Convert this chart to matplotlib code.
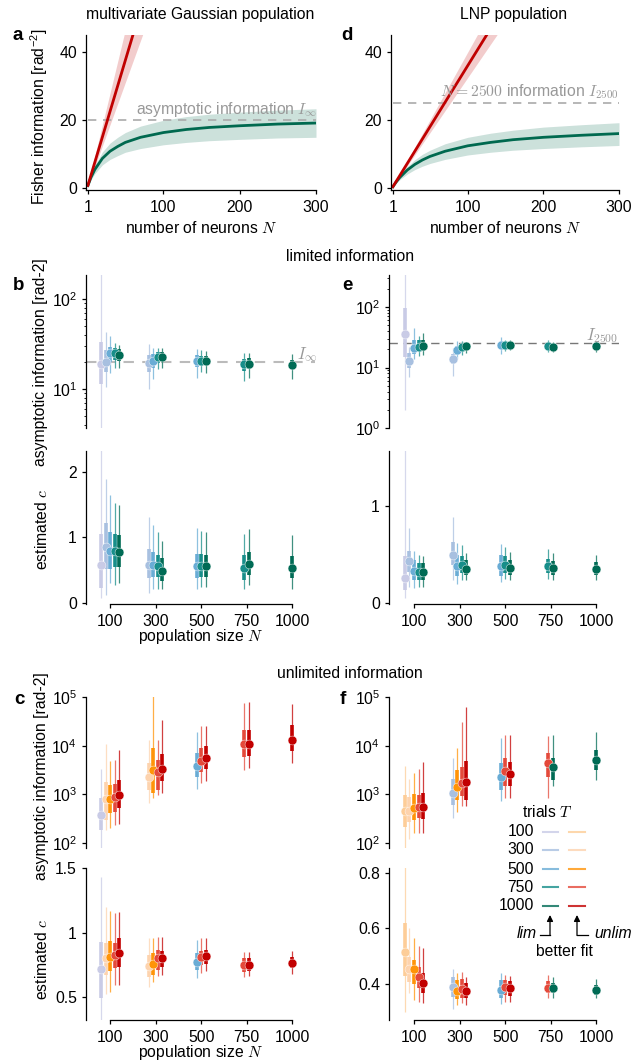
import matplotlib
matplotlib.use('Agg')
import matplotlib.pyplot as plt
from matplotlib.ticker import NullLocator, FixedLocator

plt.rcParams['font.family'] = ['Liberation Sans', 'DejaVu Sans']
plt.rcParams['font.size'] = 11.3
plt.rcParams['mathtext.fontset'] = 'cm'
plt.rcParams['axes.linewidth'] = 0.9
plt.rcParams['xtick.major.size'] = 3
plt.rcParams['ytick.major.size'] = 3
plt.rcParams['xtick.major.width'] = 0.9
plt.rcParams['ytick.major.width'] = 0.9
plt.rcParams['ytick.minor.size'] = 1.8
plt.rcParams['ytick.minor.width'] = 0.6
plt.rcParams['xtick.major.pad'] = 4
plt.rcParams['ytick.major.pad'] = 3.5

# ---------------- data: top curves ----------------
a_N = [1, 5, 10, 20, 30, 40, 50, 70, 100, 130, 160, 200, 250, 300]
a_lim = [0.7, 3.1, 5.4, 8.7, 10.8, 12.2, 13.4, 14.9, 16.3, 17.2, 17.8, 18.3, 18.8, 19.1]
a_lim_hi = [0.9, 3.8, 6.6, 10.6, 13.2, 14.9, 16.3, 18.2, 19.9, 21.0, 21.7, 22.3, 22.9, 23.3]
a_lim_lo = [0.5, 2.4, 4.2, 6.8, 8.4, 9.5, 10.5, 11.6, 12.7, 13.4, 13.9, 14.3, 14.7, 14.9]
a_unlim_N = [1, 100]
a_unlim = [0.75, 75]
a_unlim_lo = [0.62, 62]
a_unlim_hi = [0.93, 93]
a_asym = 20

d_N = [1, 5, 10, 20, 30, 40, 50, 70, 100, 130, 160, 200, 250, 300]
d_lim = [0.36, 1.67, 3.07, 5.27, 6.93, 8.23, 9.27, 10.8, 12.4, 13.4, 14.2, 14.9, 15.5, 16.0]
d_lim_hi = [0.43, 2.0, 3.7, 6.3, 8.3, 9.9, 11.1, 13.0, 14.9, 16.1, 17.0, 17.9, 18.6, 19.2]
d_lim_lo = [0.28, 1.3, 2.4, 4.1, 5.4, 6.4, 7.2, 8.4, 9.7, 10.5, 11.1, 11.6, 12.1, 12.5]
d_unlim_N = [1, 200]
d_unlim = [0.36, 72]
d_unlim_lo = [0.32, 65]
d_unlim_hi = [0.40, 80]
d_ref = 25

# ---------------- data: fit summaries ----------------
population_sizes = [100, 300, 500, 750, 1000]
trial_counts = [100, 300, 500, 750, 1000]

# panel b (limited-information Gaussian population)
b_info_med = [19.1, 20.1, 24.9, 24.9, 23.9, 19.7, 20.5, 22.5, 22.9, 20.5, 20.6, 20.5, 18.8, 19.2, 18.6]
b_info_lo50 = [11.3, 15.6, 20, 21, 20.5, 15.6, 17, 19.5, 20.5, 17.5, 18, 18.3, 16, 16.8, 16.5]
b_info_hi50 = [33, 27.1, 29.5, 28.3, 27.5, 23.9, 24.5, 26, 25.5, 24, 23.5, 23, 21.5, 22, 21]
b_info_lo95 = [3.0, 10.6, 15, 17, 17.3, 9.9, 12.8, 16.6, 17.3, 13.4, 15.3, 14.9, 12.4, 13.4, 13]
b_info_hi95 = [250, 43, 38.5, 32.7, 30.8, 31.5, 28.3, 28.7, 28.3, 27.8, 27.4, 26.4, 24.9, 24.9, 24.2]
b_c_med = [0.58, 0.86, 0.80, 0.79, 0.78, 0.58, 0.58, 0.56, 0.49, 0.56, 0.56, 0.56, 0.53, 0.59, 0.54]
b_c_lo50 = [0.23, 0.52, 0.52, 0.55, 0.55, 0.38, 0.40, 0.40, 0.33, 0.38, 0.40, 0.40, 0.35, 0.43, 0.38]
b_c_hi50 = [1.06, 1.22, 1.09, 1.06, 1.04, 0.83, 0.78, 0.73, 0.68, 0.75, 0.75, 0.73, 0.73, 0.78, 0.71]
b_c_lo95 = [0.07, 0.12, 0.30, 0.28, 0.30, 0.15, 0.22, 0.22, 0.21, 0.22, 0.25, 0.25, 0.21, 0.27, 0.22]
b_c_hi95 = [2.4, 1.90, 1.65, 1.52, 1.50, 1.32, 1.19, 1.09, 0.94, 1.14, 1.10, 1.09, 1.05, 1.13, 1.04]
b_better = ['lim'] * 15

# panel e (limited-information LNP population)
e_info_med = [36, 12.9, 21.4, 22.1, 22.8, 13.7, 19.5, 21.7, 22.6, 23.6, 23.2, 23.2, 22.8, 22.1, 22.4]
e_info_lo50 = [15, 9.8, 16.5, 18.5, 19, 11.5, 16.1, 19, 20.5, 20.5, 20.7, 21, 20.8, 20, 20.3]
e_info_hi50 = [95, 17.4, 28, 28, 28.5, 17, 22.5, 24.5, 24.5, 26.5, 25.5, 25, 25, 24.5, 24.5]
e_info_lo95 = [2.0, 7.0, 13.7, 15.3, 16.1, 7.3, 14, 16.1, 17.6, 16.5, 19, 19.2, 18.2, 17.7, 17.7]
e_info_hi95 = [400, 22.1, 44.5, 33, 36.7, 20.7, 27.5, 27.5, 26.5, 31.5, 28.5, 28, 28.5, 26.5, 27.5]
e_c_med = [0.254, 0.43, 0.33, 0.32, 0.315, 0.49, 0.38, 0.39, 0.35, 0.385, 0.395, 0.36, 0.38, 0.36, 0.35]
e_c_lo50 = [0.13, 0.32, 0.24, 0.24, 0.24, 0.39, 0.28, 0.31, 0.29, 0.28, 0.31, 0.29, 0.31, 0.29, 0.29]
e_c_hi50 = [0.48, 0.54, 0.44, 0.41, 0.41, 0.63, 0.49, 0.48, 0.44, 0.49, 0.48, 0.44, 0.45, 0.43, 0.42]
e_c_lo95 = [0.05, 0.17, 0.15, 0.17, 0.17, 0.24, 0.20, 0.24, 0.24, 0.22, 0.25, 0.24, 0.25, 0.24, 0.24]
e_c_hi95 = [1.7, 0.77, 0.54, 0.49, 0.48, 0.89, 0.62, 0.60, 0.52, 0.61, 0.58, 0.53, 0.56, 0.52, 0.50]
e_better = ['lim'] * 15

# panel c (unlimited-information Gaussian population)
c_info_med = [378, 790, 790, 870, 950, 2240, 3200, 2900, 3350, 3800, 4850, 5500, 10700, 10700, 13100]
c_info_lo50 = [186, 300, 410, 442, 518, 1230, 1050, 1230, 1900, 2240, 2900, 3350, 5900, 6200, 7700]
c_info_hi50 = [830, 1750, 1560, 1600, 1980, 4500, 8800, 5100, 6800, 7000, 8800, 9800, 21000, 21000, 26600]
c_info_lo95 = [70, 186, 200, 236, 248, 656, 832, 973, 1050, 1300, 1690, 1900, 3200, 3400, 4500]
c_info_hi95 = [3300, 10700, 4900, 5100, 8200, 13100, 110000, 13100, 33700, 19000, 25000, 25000, 74000, 80000, 72000]
c_c_med = [0.715, 0.805, 0.812, 0.826, 0.839, 0.74, 0.755, 0.80, 0.805, 0.774, 0.812, 0.817, 0.748, 0.752, 0.766]
c_c_lo50 = [0.49, 0.67, 0.70, 0.722, 0.735, 0.658, 0.672, 0.709, 0.73, 0.709, 0.748, 0.755, 0.696, 0.70, 0.722]
c_c_hi50 = [0.93, 0.916, 0.935, 0.916, 0.955, 0.826, 0.839, 0.864, 0.86, 0.839, 0.86, 0.864, 0.80, 0.80, 0.812]
c_c_lo95 = [0.30, 0.52, 0.54, 0.593, 0.593, 0.58, 0.62, 0.66, 0.67, 0.65, 0.684, 0.70, 0.658, 0.664, 0.68]
c_c_hi95 = [1.43, 1.2, 1.17, 1.15, 1.16, 0.955, 0.955, 0.967, 0.967, 0.94, 0.955, 0.955, 0.85, 0.85, 0.858]
c_better = ['lim', 'unlim', 'unlim', 'unlim', 'unlim', 'unlim', 'unlim', 'unlim', 'unlim',
            'lim', 'unlim', 'unlim', 'unlim', 'unlim', 'unlim']

# panel f (unlimited-information LNP population)
f_info_med = [456, 460, 518, 540, 540, 1080, 1400, 1690, 1830, 2240, 3000, 2600, 4300, 3700, 5100]
f_info_lo50 = [218, 275, 300, 323, 310, 600, 768, 930, 768, 1230, 1450, 1450, 2300, 1980, 3200]
f_info_hi50 = [973, 898, 1020, 973, 1050, 2050, 3200, 3700, 4800, 4300, 5500, 4700, 7200, 5500, 8200]
f_info_lo95 = [70, 120, 158, 158, 162, 323, 442, 570, 570, 740, 832, 832, 832, 1450, 1980]
f_info_hi95 = [3830, 2050, 2800, 3300, 4700, 5500, 8800, 31000, 63000, 14500, 16500, 16500, 16000, 16500, 19400]
f_c_med = [0.516, 0.453, 0.453, 0.424, 0.405, 0.388, 0.375, 0.38, 0.375, 0.378, 0.388, 0.385, 0.387, 0.387, 0.378]
f_c_lo50 = [0.428, 0.408, 0.40, 0.385, 0.366, 0.354, 0.345, 0.35, 0.348, 0.348, 0.36, 0.357, 0.366, 0.366, 0.36]
f_c_hi50 = [0.619, 0.498, 0.486, 0.462, 0.439, 0.424, 0.414, 0.417, 0.403, 0.414, 0.414, 0.41, 0.41, 0.405, 0.396]
f_c_lo95 = [0.30, 0.366, 0.342, 0.336, 0.33, 0.309, 0.324, 0.33, 0.324, 0.328, 0.336, 0.336, 0.348, 0.348, 0.348]
f_c_hi95 = [0.83, 0.60, 0.565, 0.535, 0.53, 0.455, 0.439, 0.444, 0.426, 0.441, 0.432, 0.428, 0.432, 0.426, 0.417]
f_better = ['unlim', 'unlim', 'unlim', 'unlim', 'unlim', 'lim', 'unlim', 'unlim', 'unlim',
            'lim', 'unlim', 'unlim', 'unlim', 'lim', 'lim']

# ---------------- styles ----------------
lim_colors = {100: '#c9cbe6', 300: '#a8c0e0', 500: '#69acd5', 750: '#178e8a', 1000: '#006b55'}
unlim_colors = {100: '#fdcd98', 300: '#fdd3ae', 500: '#ff9408', 750: '#e4493a', 1000: '#c20000'}
RED = '#c00000'
GREEN = '#00694f'

W, H = 632, 1063
fig = plt.figure(figsize=(W / 100, H / 100), dpi=100)


def px_axes(l, t, r, b):
    return fig.add_axes([l / W, 1 - b / H, (r - l) / W, (b - t) / H])


def ftext(x, y, s, **kw):
    fig.text(x / W, 1 - y / H, s, **kw)


def style(ax):
    for s in ['top', 'right']:
        ax.spines[s].set_visible(False)


# pairs (N, T) with T >= N
pairs = [(n, t) for n in population_sizes for t in trial_counts if t >= n]


def xpos():
    xs = []
    for gi, n in enumerate(population_sizes):
        ts = [t for t in trial_counts if t >= n]
        k = len(ts)
        for j in range(k):
            xs.append(gi + (j - (k - 1) / 2) * 0.1)
    return xs


XS = xpos()


def draw_points(ax, med, lo50, hi50, lo95, hi95, better):
    for i, (n, t) in enumerate(pairs):
        col = lim_colors[t] if better[i] == 'lim' else unlim_colors[t]
        x = XS[i]
        ax.plot([x, x], [lo95[i], hi95[i]], color=col, lw=0.9, alpha=0.75,
                solid_capstyle='butt', zorder=2 + i * 0.01)
        ax.plot([x, x], [lo50[i], hi50[i]], color=col, lw=2.6,
                solid_capstyle='butt', zorder=3 + i * 0.01)
        ax.plot([x], [med[i]], 'o', color=col, ms=6.4, mec='white', mew=0.3,
                zorder=4 + i * 0.01)


def setup_top(ax, ylim, minor=True):
    style(ax)
    ax.spines['bottom'].set_visible(False)
    ax.set_yscale('log')
    ax.set_ylim(*ylim)
    ax.set_xlim(-0.53, 4.5)
    ax.set_xticks([])
    if not minor:
        ax.yaxis.set_minor_locator(NullLocator())


def setup_bottom(ax, ylim, yticks, yticklabels):
    style(ax)
    ax.set_ylim(*ylim)
    ax.set_xlim(-0.53, 4.5)
    ax.set_xticks(range(len(population_sizes)))
    ax.set_xticklabels([str(n) for n in population_sizes])
    ax.spines['bottom'].set_bounds(0, len(population_sizes) - 1)
    ax.set_yticks(yticks)
    ax.set_yticklabels(yticklabels)


# ---------------- panel a ----------------
ax_a = px_axes(86, 35, 316, 190)
style(ax_a)
ax_a.fill_between(a_N, a_lim_lo, a_lim_hi, color=GREEN, alpha=0.2, lw=0)
ax_a.fill_between(a_unlim_N, a_unlim_lo, a_unlim_hi, color=RED, alpha=0.2, lw=0)
ax_a.axhline(a_asym, color='#aaaaaa', lw=1.2, ls=(0, (5, 4)), xmin=0.01)
ax_a.plot(a_N, a_lim, color=GREEN, lw=2.0)
ax_a.plot(a_unlim_N, a_unlim, color=RED, lw=2.0)
ax_a.text(302, 23, r'asymptotic information $I_\infty$', color='#999999', ha='right', va='center')
ax_a.set_xlim(-1.5, 300)
ax_a.set_ylim(-0.6, 45)
ax_a.set_xticks([1, 100, 200, 300])
ax_a.set_yticks([0, 20, 40])

# ---------------- panel d ----------------
ax_d = px_axes(391, 35, 619, 190)
style(ax_d)
ax_d.fill_between(d_N, d_lim_lo, d_lim_hi, color=GREEN, alpha=0.2, lw=0)
ax_d.fill_between(d_unlim_N, d_unlim_lo, d_unlim_hi, color=RED, alpha=0.2, lw=0)
ax_d.axhline(d_ref, color='#aaaaaa', lw=1.2, ls=(0, (5, 4)), xmin=0.01)
ax_d.plot(d_N, d_lim, color=GREEN, lw=2.0)
ax_d.plot(d_unlim_N, d_unlim, color=RED, lw=2.0)
ax_d.text(300, 28.3, r'$N = 2500$ information $I_{2500}$', color='#999999', ha='right', va='center')
ax_d.set_xlim(-1.5, 300)
ax_d.set_ylim(-0.6, 45)
ax_d.set_xticks([1, 100, 200, 300])
ax_d.set_yticks([0, 20, 40])

# ---------------- panel b ----------------
ax_b1 = px_axes(86, 275, 315, 428)
setup_top(ax_b1, (10 ** 0.567, 10 ** 2.267))
ax_b1.axhline(a_asym, color='#bbbbbb', lw=1.5, ls=(0, (5, 4)), zorder=1)
draw_points(ax_b1, b_info_med, b_info_lo50, b_info_hi50, b_info_lo95, b_info_hi95, b_better)
ax_b1.text(4.33, 24, r'$I_\infty$', color='#999999', ha='center', va='center', fontsize=12)

ax_b2 = px_axes(86, 451, 315, 604)
setup_bottom(ax_b2, (-0.015, 2.32), [0, 1, 2], ['0', '1', '2'])
draw_points(ax_b2, b_c_med, b_c_lo50, b_c_hi50, b_c_lo95, b_c_hi95, b_better)

# ---------------- panel e ----------------
ax_e1 = px_axes(389, 275, 619, 428)
setup_top(ax_e1, (1, 10 ** 2.529))
ax_e1.axhline(d_ref, color='#777777', lw=1.0, ls=(0, (6, 4)), zorder=1)
draw_points(ax_e1, e_info_med, e_info_lo50, e_info_hi50, e_info_lo95, e_info_hi95, e_better)
ax_e1.text(4.13, 34, r'$I_{2500}$', color='#999999', ha='center', va='center', fontsize=12)
ax_e1.set_xlim(-0.55, 4.5)

ax_e2 = px_axes(389, 451, 619, 604)
setup_bottom(ax_e2, (-0.01, 1.567), [0, 1], ['0', '1'])
ax_e2.set_xlim(-0.55, 4.5)
draw_points(ax_e2, e_c_med, e_c_lo50, e_c_hi50, e_c_lo95, e_c_hi95, e_better)

# ---------------- panel c ----------------
ax_c1 = px_axes(86, 697, 315, 848)
setup_top(ax_c1, (10 ** 1.897, 1e5), minor=False)
draw_points(ax_c1, c_info_med, c_info_lo50, c_info_hi50, c_info_lo95, c_info_hi95, c_better)
ax_c1.yaxis.set_major_locator(FixedLocator([1e2, 1e3, 1e4, 1e5]))

ax_c2 = px_axes(86, 868, 315, 1020)
setup_bottom(ax_c2, (0.322, 1.5), [0.5, 1, 1.5], ['0.5', '1', '1.5'])
draw_points(ax_c2, c_c_med, c_c_lo50, c_c_hi50, c_c_lo95, c_c_hi95, c_better)

# ---------------- panel f ----------------
ax_f1 = px_axes(389, 697, 619, 848)
setup_top(ax_f1, (10 ** 1.897, 1e5), minor=False)
ax_f1.set_xlim(-0.55, 4.5)
draw_points(ax_f1, f_info_med, f_info_lo50, f_info_hi50, f_info_lo95, f_info_hi95, f_better)
ax_f1.yaxis.set_major_locator(FixedLocator([1e2, 1e3, 1e4, 1e5]))

ax_f2 = px_axes(389, 868, 619, 1020)
setup_bottom(ax_f2, (0.27, 0.818), [0.4, 0.6, 0.8], ['0.4', '0.6', '0.8'])
ax_f2.set_xlim(-0.55, 4.5)
draw_points(ax_f2, f_c_med, f_c_lo50, f_c_hi50, f_c_lo95, f_c_hi95, f_better)

# ---------------- figure texts ----------------
ftext(200, 15, 'multivariate Gaussian population', ha='center', va='center')
ftext(514, 15, 'LNP population', ha='center', va='center')
ftext(201, 228, r'number of neurons $N$', ha='center', va='center')
ftext(505, 228, r'number of neurons $N$', ha='center', va='center')
ftext(39, 116, r'Fisher information [rad$^{\mathdefault{-2}}$]', rotation=90, ha='center', va='center')
ftext(350, 257, 'limited information', ha='center', va='center')
ftext(350, 673, 'unlimited information', ha='center', va='center')
ftext(41, 362, 'asymptotic information [rad-2]', rotation=90, ha='center', va='center')
ftext(42, 529, r'estimated $c$', rotation=90, ha='center', va='center')
ftext(42, 776, 'asymptotic information [rad-2]', rotation=90, ha='center', va='center')
ftext(42, 959, r'estimated $c$', rotation=90, ha='center', va='center')
ftext(201, 637, r'population size $N$', ha='center', va='center')
ftext(201, 1053, r'population size $N$', ha='center', va='center')
for lab, x, y in [('a', 18, 35), ('d', 347, 35), ('b', 19, 285), ('e', 347, 285),
                  ('c', 19, 700), ('f', 343, 700)]:
    ftext(x, y, lab, ha='center', va='center', fontweight='bold', fontsize=13.5)

# ---------------- legend (manual) ----------------
ov = fig.add_axes([0, 0, 1, 1])
ov.set_xlim(0, W)
ov.set_ylim(H, 0)
ov.axis('off')
ov.patch.set_alpha(0)
ov.text(547, 812, r'trials $T$', ha='center', va='center')
for t, y in zip(trial_counts, [832, 850, 869, 887, 906]):
    ov.text(534, y, str(t), ha='right', va='center')
    ov.plot([543, 558], [y, y], color=lim_colors[t], lw=1.5, alpha=0.8)
    ov.plot([569, 585], [y, y], color=unlim_colors[t], lw=1.5, alpha=0.8)
ov.plot([540, 550], [935, 935], color='black', lw=0.9)
ov.plot([577, 588], [935, 935], color='black', lw=0.9)
ov.annotate('', xy=(550, 915), xytext=(550, 935.4),
            arrowprops=dict(arrowstyle='-|>', color='black', lw=0.9, mutation_scale=9, shrinkA=0, shrinkB=0))
ov.annotate('', xy=(577, 915), xytext=(577, 935.4),
            arrowprops=dict(arrowstyle='-|>', color='black', lw=0.9, mutation_scale=9, shrinkA=0, shrinkB=0))
ov.text(537, 934, 'lim', ha='right', va='center', style='italic')
ov.text(594, 934, 'unlim', ha='left', va='center', style='italic')
ov.text(564, 952, 'better fit', ha='center', va='center')

fig.savefig('out.png', dpi=100)
